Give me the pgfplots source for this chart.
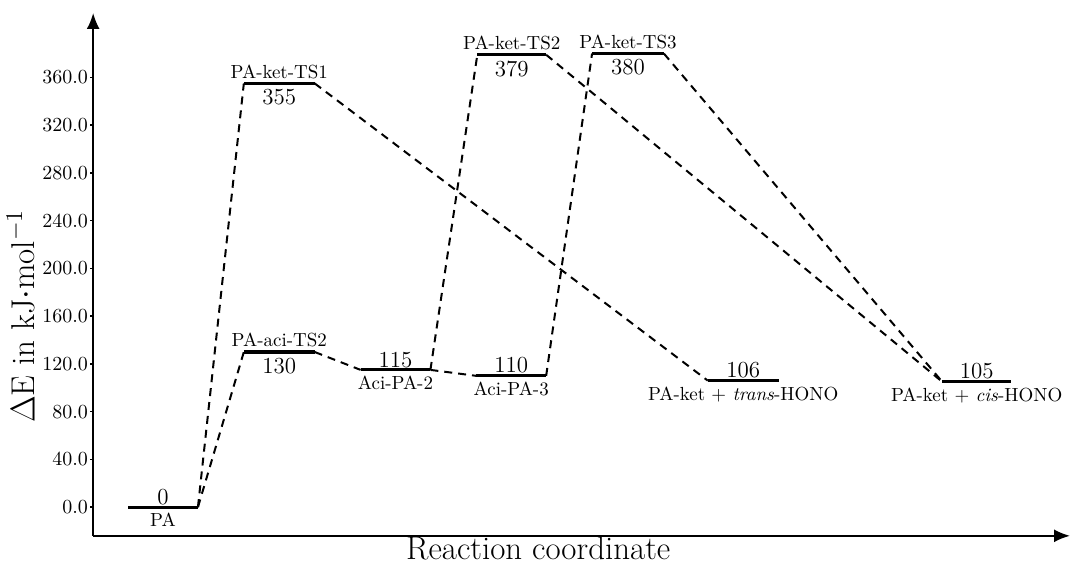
\documentclass[border=0pt]{standalone}
\usepackage{pgfplots}
\pgfplotsset{compat=1.18}
\usetikzlibrary{arrows.meta}
\begin{document}
\begin{tikzpicture}
\begin{axis}[
  scale only axis,
  width=489.5pt, height=262pt,
  xmin=91, xmax=1070,
  ymin=-24, ymax=414,
  axis lines=left,
  axis line style={line width=1pt,-{Latex[length=8pt,width=6.5pt]}},
  xtick=\empty,
  ytick={0,40,...,360},
  tick style={black,line width=0.8pt},
  tick align=outside,
  major tick length=1.5pt,
  yticklabel style={font=\fontsize{10}{11}\selectfont,inner sep=1pt,/pgf/number format/.cd,fixed,fixed zerofill,precision=1,assume math mode=true},
  xlabel={Reaction coordinate},
  xlabel style={font=\fontsize{16.5}{18}\selectfont,at={(axis description cs:0.4556,-0.0248)},anchor=center},
  ylabel={$\Delta$E in kJ$\cdot$mol$^{-1}$},
  ylabel style={font=\fontsize{16.5}{18}\selectfont,at={(axis description cs:-0.074,0.42)},anchor=center},
  clip=false,
]
\pgfplotsset{lev/.style={black,line width=1.6pt,forget plot},con/.style={black,line width=1pt,dash pattern=on 4pt off 3pt,forget plot}}
% connections (dashed)
\addplot[con] coordinates {(196,0) (242,355)};
\addplot[con] coordinates {(196,0) (242,130)};
\addplot[con] coordinates {(313,130) (359,115)};
\addplot[con] coordinates {(429,115) (476,379)};
\addplot[con] coordinates {(429,115) (475,110)};
\addplot[con] coordinates {(545,110) (591,380)};
\addplot[con] coordinates {(313,355) (707,106)};
\addplot[con] coordinates {(545,379) (942,105)};
\addplot[con] coordinates {(663,380) (942,105)};
% levels (solid)
\addplot[lev] coordinates {(126,0) (196,0)};
\addplot[lev] coordinates {(242,355) (313,355)};
\addplot[lev] coordinates {(242,130) (313,130)};
\addplot[lev] coordinates {(359,115) (429,115)};
\addplot[lev] coordinates {(475,110) (545,110)};
\addplot[lev] coordinates {(476,379) (545,379)};
\addplot[lev] coordinates {(591,380) (663,380)};
\addplot[lev] coordinates {(707,106) (778,106)};
\addplot[lev] coordinates {(942,105) (1011,105)};
% labels
\tikzset{val/.style={font=\fontsize{11.5}{12}\selectfont,inner sep=1pt},nm/.style={font=\fontsize{9.5}{10}\selectfont,inner sep=1pt}}
\node[val,anchor=south] at (axis cs:161,0) {0};
\node[nm,anchor=north] at (axis cs:161,-3) {PA};
\node[nm,anchor=south] at (axis cs:277.5,357) {PA-ket-TS1};
\node[val,anchor=north] at (axis cs:277.5,352) {355};
\node[nm,anchor=south] at (axis cs:277.5,132) {PA-aci-TS2};
\node[val,anchor=north] at (axis cs:277.5,127) {130};
\node[val,anchor=south] at (axis cs:394,115) {115};
\node[nm,anchor=north] at (axis cs:394,112) {Aci-PA-2};
\node[val,anchor=south] at (axis cs:510,110) {110};
\node[nm,anchor=north] at (axis cs:510,107) {Aci-PA-3};
\node[nm,anchor=south] at (axis cs:510.5,381) {PA-ket-TS2};
\node[val,anchor=north] at (axis cs:510.5,376) {379};
\node[nm,anchor=south] at (axis cs:627,382) {PA-ket-TS3};
\node[val,anchor=north] at (axis cs:627,377) {380};
\node[val,anchor=south] at (axis cs:742.5,106) {106};
\node[nm,anchor=north] at (axis cs:742.5,103) {PA-ket + \textit{trans}-HONO};
\node[val,anchor=south] at (axis cs:976.5,105) {105};
\node[nm,anchor=north] at (axis cs:976.5,102) {PA-ket + \textit{cis}-HONO};
\end{axis}
\path[use as bounding box] (-45.5pt,-14.5pt) rectangle (490.5pt,268.5pt);
\end{tikzpicture}
\end{document}
